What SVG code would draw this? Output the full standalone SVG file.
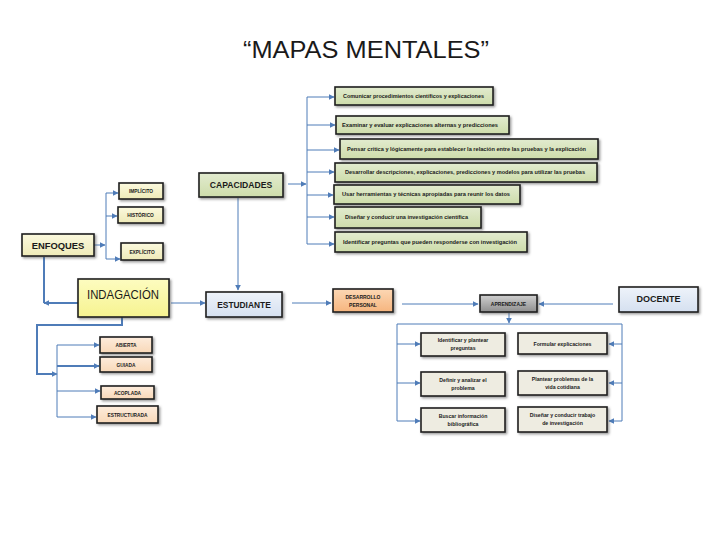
<svg xmlns="http://www.w3.org/2000/svg" width="720" height="540" viewBox="0 0 720 540">
<defs>
<filter id="sh" x="-10%" y="-20%" width="130%" height="160%">
<feDropShadow dx="1.5" dy="1.5" stdDeviation="1" flood-color="#444" flood-opacity="0.55"/>
</filter>
<linearGradient id="gGreen" x1="0" y1="0" x2="0" y2="1"><stop offset="0" stop-color="#e2ebcf"/><stop offset="1" stop-color="#cddcaa"/></linearGradient>
<linearGradient id="gCream" x1="0" y1="0" x2="0" y2="1"><stop offset="0" stop-color="#fbf9de"/><stop offset="1" stop-color="#eeeab8"/></linearGradient>
<linearGradient id="gYellow" x1="0" y1="0" x2="0" y2="1"><stop offset="0" stop-color="#fdfcc0"/><stop offset="1" stop-color="#f6f390"/></linearGradient>
<linearGradient id="gBlue" x1="0" y1="0" x2="0" y2="1"><stop offset="0" stop-color="#eef3fa"/><stop offset="1" stop-color="#d5e0f0"/></linearGradient>
<linearGradient id="gOrange" x1="0" y1="0" x2="0" y2="1"><stop offset="0" stop-color="#fcd7b4"/><stop offset="1" stop-color="#f6b57e"/></linearGradient>
<linearGradient id="gGrey" x1="0" y1="0" x2="0" y2="1"><stop offset="0" stop-color="#d0d0d0"/><stop offset="1" stop-color="#8e8e8e"/></linearGradient>
<linearGradient id="gPeach" x1="0" y1="0" x2="0" y2="1"><stop offset="0" stop-color="#fdecdc"/><stop offset="1" stop-color="#f8d8b8"/></linearGradient>
<marker id="arr" viewBox="0 0 10 10" refX="9" refY="5" markerUnits="userSpaceOnUse" markerWidth="6" markerHeight="6" orient="auto">
<path d="M0,0 L10,5 L0,10 z" fill="#4f7cb8"/>
</marker>
<style>
.box{stroke:#1f1f1f;stroke-width:1.6;filter:url(#sh)}
.g{fill:url(#gGreen)}
.cr{fill:url(#gCream)}
.be{fill:#eeece1}
.pe{fill:url(#gPeach)}
.c{fill:none;stroke:#4f7cb8;stroke-width:1}
.ct{fill:none;stroke:#4f7cb8;stroke-width:2}
.a{marker-end:url(#arr)}
.t{font-family:"Liberation Sans",Arial,sans-serif;fill:#1a1a1a}
.tb{font-family:"Liberation Sans",Arial,sans-serif;font-weight:bold;fill:#1a1a1a}
.s{font-size:5.2px}
.m{text-anchor:middle}
</style>
</defs>
<rect width="720" height="540" fill="#ffffff"/>

<text x="366" y="58" class="t m" font-size="24.5" fill="#000" textLength="246" lengthAdjust="spacingAndGlyphs">“MAPAS MENTALES”</text>

<g id="connectors">
<path class="c" d="M307,97 V244"/>
<path class="c a" d="M307,97 H334"/>
<path class="c a" d="M307,125 H335"/>
<path class="c a" d="M307,150 H339"/>
<path class="c a" d="M307,172 H334"/>
<path class="c a" d="M307,195 H333"/>
<path class="c a" d="M307,217 H334"/>
<path class="c a" d="M307,244 H334"/>
<path class="c a" d="M288,184 H306"/>
<path class="c a" d="M238,198 V290"/>
<path class="c a" d="M94,245 H105"/>
<path class="c" d="M106,193 V259"/>
<path class="c a" d="M106,193 H118"/>
<path class="c a" d="M106,216 H117"/>
<path class="c a" d="M106,259 H120"/>
<path class="c a" d="M171,303 H205"/>
<path class="ct" d="M44,257 V303"/>
<path class="ct a" d="M78,303 H44"/>
<path class="ct" d="M122,317 V325 H37 V374 H55"/>
<path class="c a" d="M48,374 H57"/>
<path class="c" d="M57,345 V417"/>
<path class="c a" d="M57,345 H99"/>
<path class="ct a" d="M57,366 H99"/>
<path class="c a" d="M57,391 H100"/>
<path class="c a" d="M57,417 H96"/>
<path class="c a" d="M292,303 H331"/>
<path class="c a" d="M402,304 H478"/>
<path class="c a" d="M613,304 H539"/>
<path class="c a" d="M509,313 V323"/>
<path class="c" d="M397,421 V324 H622 V421"/>
<path class="c a" d="M397,344 H420"/>
<path class="c a" d="M397,383 H420"/>
<path class="c a" d="M397,421 H420"/>
<path class="c a" d="M622,344 H609"/>
<path class="c a" d="M622,383 H609"/>
<path class="c a" d="M622,421 H609"/>
</g>

<g id="cap1"><rect class="box g" x="335" y="87" width="158" height="18"/><text x="343" y="98" class="tb s" textLength="141" lengthAdjust="spacingAndGlyphs">Comunicar procedimientos científicos y explicaciones</text></g>
<g id="cap2"><rect class="box g" x="336" y="116" width="173" height="18"/><text x="342" y="127" class="tb s" textLength="156" lengthAdjust="spacingAndGlyphs">Examinar y evaluar explicaciones alternas y predicciones</text></g>
<g id="cap3"><rect class="box g" x="340" y="139" width="258" height="20"/><text x="347" y="151" class="tb s" textLength="239" lengthAdjust="spacingAndGlyphs">Pensar crítica y lógicamente para establecer la relación entre las pruebas y la explicación</text></g>
<g id="cap4"><rect class="box g" x="335" y="163" width="262" height="19"/><text x="345" y="174" class="tb s" textLength="240" lengthAdjust="spacingAndGlyphs">Desarrollar descripciones, explicaciones, predicciones y modelos para utilizar las pruebas</text></g>
<g id="cap5"><rect class="box g" x="334" y="185" width="186" height="19"/><text x="342" y="196" class="tb s" textLength="168" lengthAdjust="spacingAndGlyphs">Usar herramientas y técnicas apropiadas para reunir los datos</text></g>
<g id="cap6"><rect class="box g" x="335" y="207" width="146" height="21"/><text x="345" y="219" class="tb s" textLength="123" lengthAdjust="spacingAndGlyphs">Diseñar y conducir una investigación científica</text></g>
<g id="cap7"><rect class="box g" x="335" y="232" width="192" height="20"/><text x="343" y="244" class="tb s" textLength="174" lengthAdjust="spacingAndGlyphs">Identificar preguntas que pueden responderse con investigación</text></g>

<g id="capacidades"><rect class="box g" x="199" y="173" width="84" height="24"/><text x="241" y="188" class="tb m" font-size="8.6">CAPACIDADES</text></g>
<g id="enfoques"><rect class="box cr" x="22" y="234" width="72" height="22"/><text x="58" y="248.5" class="tb m" font-size="9.4">ENFOQUES</text></g>
<g id="implicito"><rect class="box cr" x="119" y="183" width="44" height="16"/><text x="141" y="193" class="tb m" font-size="4.8">IMPLÍCITO</text></g>
<g id="historico"><rect class="box cr" x="118" y="207" width="45" height="16"/><text x="140.5" y="217" class="tb m" font-size="4.8">HISTÓRICO</text></g>
<g id="explicito"><rect class="box cr" x="121" y="243" width="42" height="17"/><text x="142" y="253.5" class="tb m" font-size="4.8">EXPLÍCITO</text></g>
<g id="indagacion"><rect class="box" fill="url(#gYellow)" x="78" y="279" width="91" height="38"/><text x="87" y="299" class="t" font-size="13" fill="#4a5566" textLength="72" lengthAdjust="spacingAndGlyphs">INDAGACIÓN</text></g>
<g id="estudiante"><rect class="box" fill="url(#gBlue)" x="206" y="292" width="76" height="25"/><text x="244" y="307.5" class="tb m" font-size="8.4">ESTUDIANTE</text></g>

<g id="abierta"><rect class="box pe" x="100" y="337" width="52" height="16"/><text x="126" y="347" class="tb m" font-size="4.8">ABIERTA</text></g>
<g id="guiada"><rect class="box pe" x="100" y="357" width="52" height="15"/><text x="126" y="366.5" class="tb m" font-size="4.8">GUIADA</text></g>
<g id="acoplada"><rect class="box pe" x="101" y="386" width="53" height="13"/><text x="127.5" y="394.5" class="tb m" font-size="4.8">ACOPLADA</text></g>
<g id="estructurada"><rect class="box pe" x="97" y="406" width="61" height="17"/><text x="127.5" y="416.5" class="tb m" font-size="4.8">ESTRUCTURADA</text></g>

<g id="desarrollo"><rect class="box" fill="url(#gOrange)" stroke="#3a2a1a" x="333" y="289" width="60" height="23"/><text x="363" y="299" class="tb m" font-size="5">DESARROLLO</text><text x="363" y="307" class="tb m" font-size="5">PERSONAL</text></g>
<g id="aprendizaje"><rect class="box" fill="url(#gGrey)" x="480" y="295" width="57" height="17"/><text x="508.5" y="305.5" class="tb m" font-size="5" fill="#1a1a1a">APRENDIZAJE</text></g>
<g id="docente"><rect class="box" fill="url(#gBlue)" x="619" y="287" width="79" height="25"/><text x="658.5" y="302" class="tb m" font-size="9">DOCENTE</text></g>

<g id="b1"><rect class="box be" x="421" y="333" width="84" height="23"/><text x="463" y="342" class="tb m" font-size="5.2">Identificar y plantear</text><text x="463" y="350" class="tb m" font-size="5.2">preguntas</text></g>
<g id="b2"><rect class="box be" x="421" y="372" width="84" height="24"/><text x="463" y="381.5" class="tb m" font-size="5.2">Definir y analizar el</text><text x="463" y="389.5" class="tb m" font-size="5.2">problema</text></g>
<g id="b3"><rect class="box be" x="421" y="408" width="84" height="24"/><text x="463" y="417.5" class="tb m" font-size="5.2">Buscar información</text><text x="463" y="425.5" class="tb m" font-size="5.2">bibliográfica</text></g>
<g id="b4"><rect class="box be" x="518" y="333" width="89" height="21"/><text x="562.5" y="345.5" class="tb m" font-size="5.2">Formular explicaciones</text></g>
<g id="b5"><rect class="box be" x="518" y="371" width="89" height="24"/><text x="562.5" y="380.5" class="tb m" font-size="5.2">Plantear problemas de la</text><text x="562.5" y="388.5" class="tb m" font-size="5.2">vida cotidiana</text></g>
<g id="b6"><rect class="box be" x="518" y="407" width="89" height="25"/><text x="562.5" y="417" class="tb m" font-size="5.2">Diseñar y conducir trabajo</text><text x="562.5" y="425" class="tb m" font-size="5.2">de investigación</text></g>
</svg>
